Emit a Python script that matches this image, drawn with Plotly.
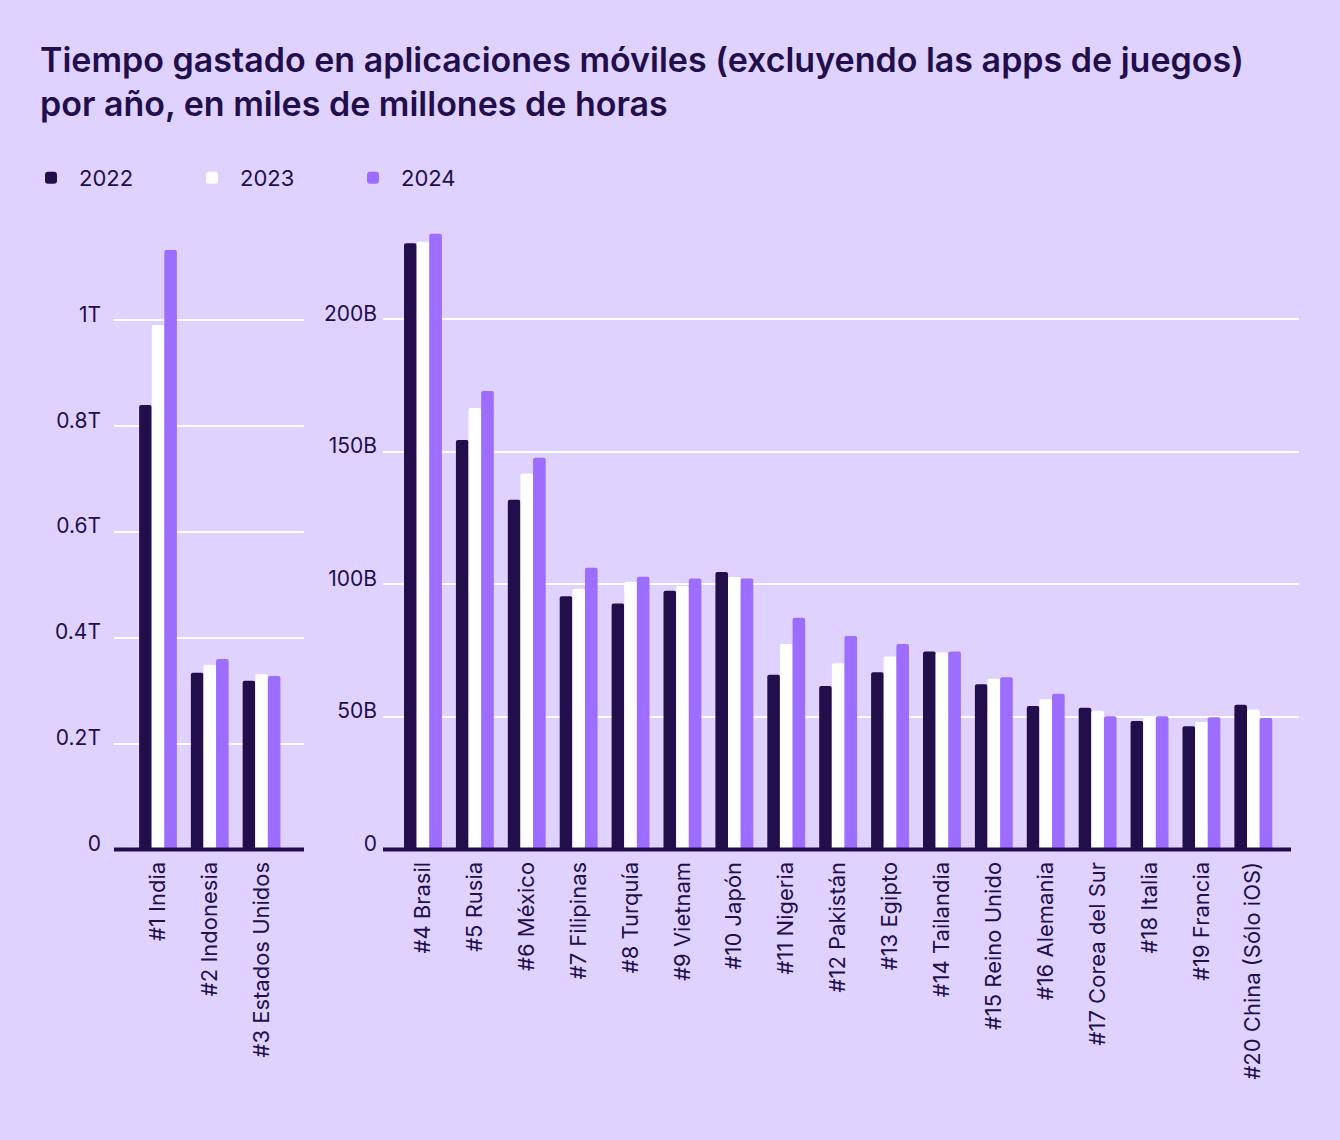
import plotly.graph_objects as go

# ---------------- data (billions of hours) ----------------
years = ["2022", "2023", "2024"]

left_countries = ["#1 India", "#2 Indonesia", "#3 Estados Unidos"]
left_2022 = [840, 334, 319]
left_2023 = [991, 349, 331]
left_2024 = [1133, 360, 328]

right_countries = ["#4 Brasil", "#5 Rusia", "#6 México", "#7 Filipinas", "#8 Turquía",
                   "#9 Vietnam", "#10 Japón", "#11 Nigeria", "#12 Pakistán", "#13 Egipto",
                   "#14 Tailandia", "#15 Reino Unido", "#16 Alemania", "#17 Corea del Sur",
                   "#18 Italia", "#19 Francia", "#20 China (Sólo iOS)"]
right_2022 = [228.7, 154.5, 131.9, 95.5, 92.8, 97.6, 104.7, 65.9, 61.7, 66.9,
              74.7, 62.3, 54.1, 53.5, 48.5, 46.5, 54.6]
right_2023 = [229.3, 166.5, 141.8, 98.4, 101.0, 99.4, 102.8, 77.5, 70.3, 72.8,
              74.3, 64.4, 56.7, 52.3, 50.0, 48.1, 52.8]
right_2024 = [232.3, 173.0, 147.8, 106.3, 102.9, 102.2, 102.2, 87.4, 80.5, 77.5,
              74.7, 65.0, 58.8, 50.3, 50.3, 49.9, 49.6]

left_tickvals = [0, 200, 400, 600, 800, 1000]
left_ticktext = ["0", "0.2T", "0.4T", "0.6T", "0.8T", "1T"]
right_tickvals = [0, 50, 100, 150, 200]
right_ticktext = ["0", "50B", "100B", "150B", "200B"]

title_text = ("Tiempo gastado en aplicaciones móviles (excluyendo las apps de juegos)<br>"
              "por año, en miles de millones de horas")

# ---------------- style ----------------
BG = "#dfd2ff"
DARK = "#220e4b"
WHITE = "#ffffff"
PURPLE = "#9d6dff"
colors = [DARK, WHITE, PURPLE]
FONT = "Inter"

W, H = 1340, 1140


def px_x(p):
    return p / W


def px_y(p):
    return 1 - p / H


fig = go.Figure()

left_series = [left_2022, left_2023, left_2024]
right_series = [right_2022, right_2023, right_2024]

for i, yr in enumerate(years):
    fig.add_trace(go.Bar(
        x=left_countries, y=left_series[i], name=yr, marker_color=colors[i],
        marker_line_width=0, xaxis="x", yaxis="y", legendgroup=yr, showlegend=True,
    ))
for i, yr in enumerate(years):
    fig.add_trace(go.Bar(
        x=right_countries, y=right_series[i], name=yr, marker_color=colors[i],
        marker_line_width=0, xaxis="x2", yaxis="y2", legendgroup=yr, showlegend=False,
    ))

y_bottom, y_top = 854, 213
left_px_per_unit = 0.532      # px per billion (left)
right_px_per_unit = 2.665     # px per billion (right)
span = y_bottom - y_top

axis_common = dict(
    showgrid=True, gridcolor="#ffffff", gridwidth=1.5, zeroline=False,
    tickfont=dict(family=FONT, size=21, color=DARK), ticks="", showline=False,
    ticklabelshift=-6,
)
xaxis_common = dict(
    showgrid=False, zeroline=False, tickangle=-90, ticks="",
    tickfont=dict(family=FONT, size=22, color=DARK),
    showline=False, ticklabelstandoff=7,
)

fig.update_layout(
    width=W, height=H,
    paper_bgcolor=BG, plot_bgcolor=BG,
    margin=dict(l=0, r=0, t=0, b=0),
    barmode="group", bargap=0.27, bargroupgap=0,
    barcornerradius=2,
    font=dict(family=FONT, color=DARK),
    title=dict(text=title_text, x=px_x(40), xanchor="left", y=px_y(72), yanchor="top",
               font=dict(family=FONT, size=34, color=DARK, weight=600)),
    showlegend=True,
    legend=dict(orientation="h", x=px_x(23), xanchor="left", y=px_y(179), yanchor="middle",
                font=dict(family=FONT, size=22, color=DARK), itemwidth=46,
                entrywidth=100, entrywidthmode="pixels", bgcolor="rgba(0,0,0,0)",
                traceorder="normal"),
    xaxis=dict(domain=[px_x(114), px_x(304)], range=[-0.85, 2.82], anchor="y", **xaxis_common),
    yaxis=dict(domain=[px_y(y_bottom), px_y(y_top)], range=[0, span / left_px_per_unit],
               tickvals=left_tickvals, ticktext=left_ticktext, anchor="x",
               ticklabelstandoff=12, **axis_common),
    xaxis2=dict(domain=[px_x(383), px_x(1299)], range=[-0.77, 16.88], anchor="y2", **xaxis_common),
    yaxis2=dict(domain=[px_y(y_bottom), px_y(y_top)], range=[0, span / right_px_per_unit],
                tickvals=right_tickvals, ticktext=right_ticktext, anchor="x2",
                ticklabelstandoff=5, **axis_common),
)

# baselines
for x0, x1 in [(114, 304), (383, 1291)]:
    fig.add_shape(type="line", xref="paper", yref="paper",
                  x0=px_x(x0), x1=px_x(x1), y0=px_y(854), y1=px_y(854),
                  line=dict(color=DARK, width=4), layer="above")

fig.write_html(
    "out.html",
    config={"displayModeBar": False},
    post_script=("document.body.style.margin='0';"
                 "document.body.style.background='" + BG + "';"
                 "document.documentElement.style.overflow='hidden';"),
)
